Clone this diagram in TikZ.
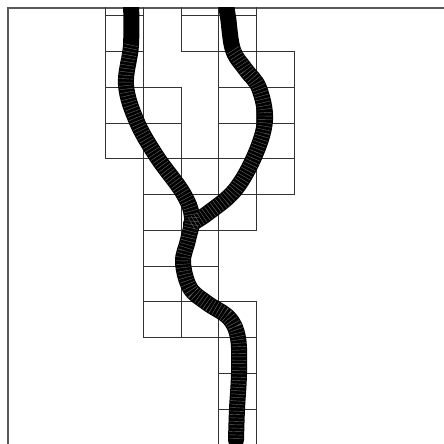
\documentclass[tikz,border=0pt]{standalone}
\begin{document}
\begin{tikzpicture}[
        x=0.5pt, y=-0.5pt,
        cell/.style={draw=black!80, line width=0.5pt},
        frame/.style={draw=black!65, line width=0.6pt},
        trail/.style={draw=black, line width=8pt, line cap=round, line join=round},
        hatch/.style={draw=black!60, line width=7pt, dash pattern=on 0.2pt off 1.5pt}
    ]
        \useasboundingbox (0,0) rectangle (444,444);
        \draw[frame] (8,8) rectangle (470,470);
        \begin{scope}
        \clip (8,8) rectangle (470,470);
        % cells as column/row
        \foreach \c/\r in {0/0,2/0,3/0, 0/1,2/1,3/1, 0/2,3/2,4/2, 0/3,1/3,3/3,4/3,
                0/4,1/4,3/4,4/4, 1/5,2/5,3/5,4/5, 1/6,2/6,3/6, 1/7,2/7, 1/8,2/8,
                1/9,2/9,3/9, 3/10, 3/11, 3/12}
            \draw[cell] ({105.5+37.8*\c},{-20.1+35.78*\r}) rectangle +(37.8,35.78);
        \coordinate (junction) at (191,224);
        % two trails
        \draw[trail] plot[smooth, tension=0.6] coordinates {(225,0) (228,17) (233,50) (246,70) (259,88)
            (265,120) (255,155) (235,190) (208,213) (junction)};
        \draw[trail] plot[smooth, tension=0.6] coordinates {(131,0) (131,45) (126,85) (137,122) (157,157)
            (183,193) (192,217) (188,240) (183,262) (190,288) (207,303) (229,318) (238,338)
            (239,373) (237,409) (236,440)};
        \draw[hatch] plot[smooth, tension=0.6] coordinates {(233,50) (246,70) (259,88)
            (265,120) (255,155) (235,190) (208,213) (junction)};
        \draw[hatch] plot[smooth, tension=0.6] coordinates {(131,45) (126,85) (137,122) (157,157)
            (183,193) (192,217) (188,240) (183,262) (190,288) (207,303) (229,318) (238,338)
            (239,373) (237,409) (236,440)};
        \end{scope}
    \end{tikzpicture}
\end{document}
